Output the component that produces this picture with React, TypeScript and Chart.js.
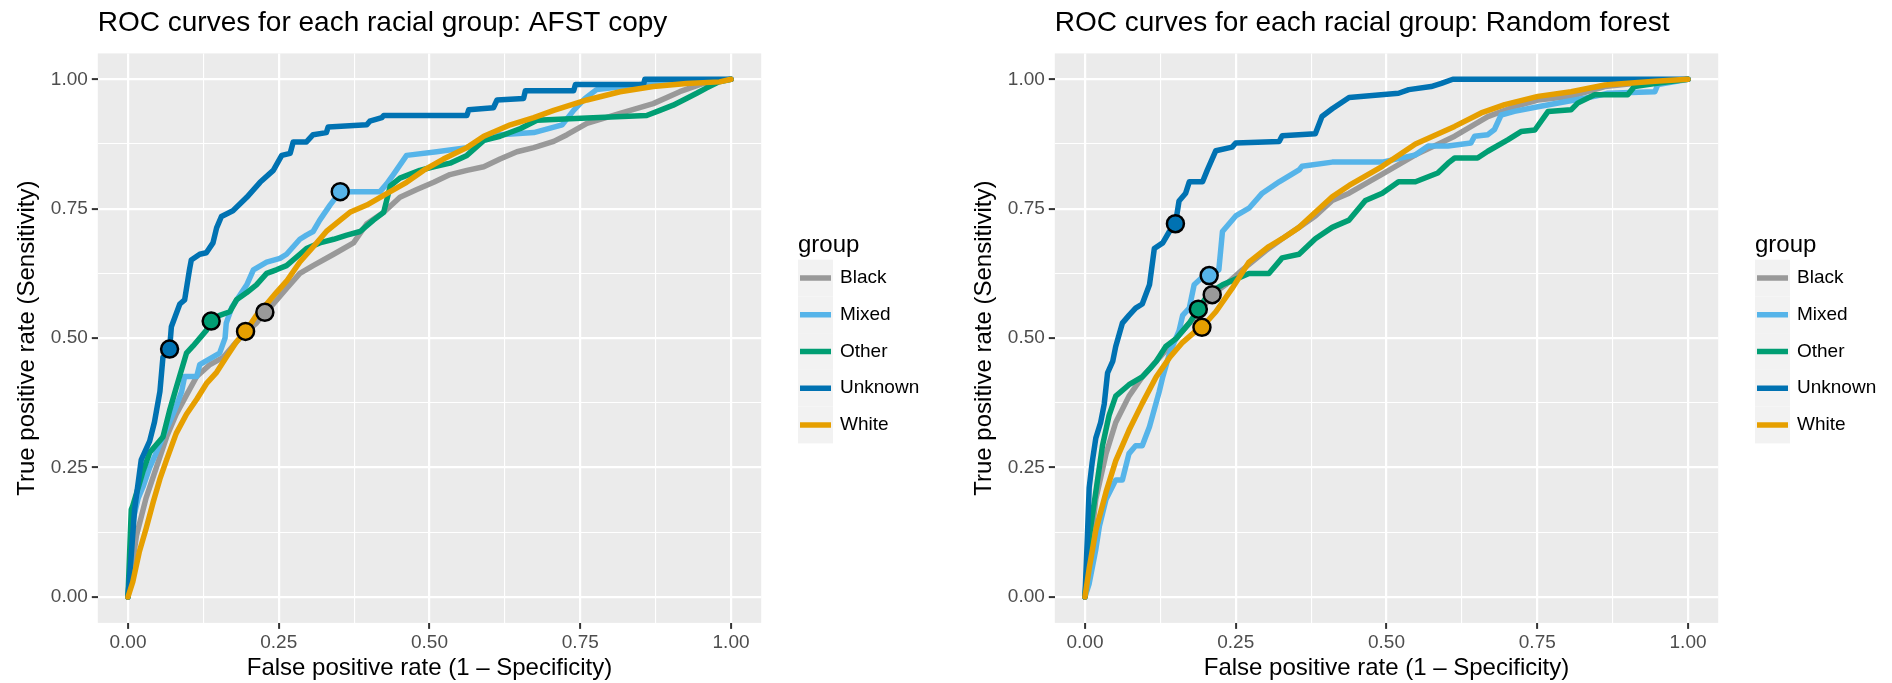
import React, { useEffect, useRef } from "react";
import { Chart, registerables } from "chart.js";

Chart.register(...registerables);

// ---------- data ----------
const groups = ["Black", "Mixed", "Other", "Unknown", "White"];
const groupColors = ["#999999", "#56B4E9", "#009E73", "#0072B2", "#E69F00"];
const tickValues = [0, 0.125, 0.25, 0.375, 0.5, 0.625, 0.75, 0.875, 1];

const titleAfst = "ROC curves for each racial group: AFST copy";
const titleForest = "ROC curves for each racial group: Random forest";
const xAxisTitle = "False positive rate (1 \u2013 Specificity)";
const yAxisTitle = "True positive rate (Sensitivity)";
const legendTitle = "group";

// AFST copy: [fpr, tpr]
const afstBlack = [[0,0],[0.014,0.118],[0.03,0.191],[0.047,0.25],[0.064,0.309],[0.08,0.353],[0.097,0.39],[0.114,0.426],[0.136,0.449],[0.158,0.463],[0.174,0.485],[0.191,0.507],[0.213,0.529],[0.227,0.55],[0.241,0.566],[0.263,0.596],[0.285,0.625],[0.307,0.64],[0.341,0.662],[0.374,0.684],[0.396,0.721],[0.424,0.743],[0.451,0.772],[0.479,0.787],[0.507,0.801],[0.534,0.816],[0.562,0.824],[0.59,0.831],[0.617,0.846],[0.645,0.86],[0.673,0.868],[0.706,0.88],[0.728,0.893],[0.761,0.915],[0.816,0.934],[0.871,0.953],[0.915,0.976],[0.954,0.992],[1,1]];
const afstMixed = [[0,0],[0.004,0.06],[0.008,0.147],[0.017,0.191],[0.025,0.213],[0.036,0.25],[0.047,0.279],[0.058,0.309],[0.069,0.338],[0.08,0.368],[0.089,0.397],[0.094,0.426],[0.114,0.426],[0.119,0.449],[0.152,0.471],[0.161,0.5],[0.163,0.529],[0.172,0.559],[0.197,0.603],[0.208,0.632],[0.23,0.647],[0.252,0.654],[0.263,0.662],[0.285,0.691],[0.296,0.699],[0.307,0.706],[0.318,0.728],[0.335,0.757],[0.352,0.783],[0.418,0.783],[0.429,0.798],[0.44,0.816],[0.462,0.853],[0.512,0.86],[0.562,0.868],[0.59,0.882],[0.617,0.893],[0.673,0.897],[0.72,0.912],[0.739,0.94],[0.758,0.963],[0.777,0.98],[0.85,0.99],[0.95,0.995],[1,1]];
const afstOther = [[0,0],[0.0055,0.169],[0.008,0.176],[0.025,0.243],[0.036,0.279],[0.058,0.309],[0.069,0.36],[0.08,0.404],[0.097,0.471],[0.108,0.485],[0.13,0.515],[0.138,0.533],[0.152,0.544],[0.169,0.551],[0.18,0.574],[0.197,0.588],[0.213,0.603],[0.23,0.625],[0.246,0.632],[0.263,0.64],[0.285,0.662],[0.296,0.673],[0.318,0.684],[0.341,0.691],[0.363,0.699],[0.385,0.706],[0.407,0.728],[0.424,0.743],[0.435,0.794],[0.451,0.809],[0.484,0.824],[0.507,0.831],[0.534,0.838],[0.562,0.853],[0.59,0.882],[0.617,0.89],[0.651,0.905],[0.678,0.921],[0.733,0.924],[0.8,0.927],[0.86,0.93],[0.882,0.94],[0.904,0.95],[0.926,0.963],[0.943,0.973],[0.959,0.983],[0.98,0.995],[1,1]];
const afstUnknown = [[0,0],[0.0055,0.081],[0.011,0.169],[0.022,0.265],[0.036,0.301],[0.044,0.338],[0.053,0.397],[0.058,0.463],[0.069,0.479],[0.072,0.522],[0.086,0.566],[0.094,0.574],[0.102,0.632],[0.105,0.651],[0.119,0.662],[0.13,0.665],[0.141,0.684],[0.147,0.713],[0.155,0.735],[0.174,0.746],[0.197,0.772],[0.219,0.801],[0.241,0.824],[0.255,0.853],[0.269,0.857],[0.274,0.879],[0.296,0.879],[0.307,0.893],[0.329,0.897],[0.332,0.908],[0.396,0.912],[0.401,0.919],[0.421,0.926],[0.424,0.93],[0.562,0.93],[0.565,0.941],[0.606,0.945],[0.612,0.96],[0.656,0.963],[0.659,0.978],[0.739,0.978],[0.742,0.99],[0.855,0.99],[0.857,1],[1,1]];
const afstWhite = [[0,0],[0.008,0.029],[0.019,0.088],[0.03,0.132],[0.042,0.184],[0.053,0.228],[0.064,0.265],[0.08,0.316],[0.097,0.353],[0.114,0.382],[0.13,0.412],[0.147,0.434],[0.163,0.463],[0.18,0.493],[0.195,0.513],[0.213,0.544],[0.23,0.566],[0.246,0.588],[0.263,0.61],[0.285,0.647],[0.307,0.676],[0.329,0.706],[0.352,0.728],[0.368,0.743],[0.396,0.757],[0.429,0.779],[0.462,0.801],[0.49,0.824],[0.523,0.846],[0.562,0.868],[0.59,0.89],[0.634,0.912],[0.673,0.926],[0.706,0.94],[0.761,0.96],[0.816,0.976],[0.871,0.986],[0.926,0.992],[0.981,0.995],[1,1]];
// operating points, in group order
const afstMarkers = [[0.227,0.55],[0.352,0.783],[0.138,0.533],[0.069,0.479],[0.195,0.513]];

// Random forest: [fpr, tpr]
const forestBlack = [[0,0],[0.007,0.078],[0.018,0.189],[0.035,0.277],[0.051,0.337],[0.073,0.388],[0.095,0.425],[0.118,0.455],[0.14,0.484],[0.162,0.514],[0.184,0.544],[0.2,0.566],[0.211,0.584],[0.233,0.603],[0.261,0.632],[0.3,0.669],[0.327,0.692],[0.355,0.714],[0.382,0.736],[0.41,0.766],[0.438,0.78],[0.493,0.817],[0.548,0.854],[0.613,0.89],[0.668,0.928],[0.712,0.947],[0.751,0.96],[0.806,0.967],[0.862,0.986],[0.945,0.996],[1,1]];
const forestMixed = [[0,0],[0.007,0.026],[0.018,0.092],[0.024,0.137],[0.035,0.189],[0.051,0.226],[0.062,0.226],[0.073,0.277],[0.084,0.292],[0.095,0.292],[0.107,0.329],[0.123,0.396],[0.129,0.425],[0.14,0.47],[0.156,0.514],[0.162,0.544],[0.173,0.558],[0.181,0.603],[0.195,0.618],[0.206,0.621],[0.222,0.632],[0.228,0.706],[0.239,0.721],[0.25,0.736],[0.272,0.751],[0.294,0.78],[0.322,0.802],[0.355,0.825],[0.36,0.832],[0.41,0.84],[0.493,0.84],[0.548,0.854],[0.569,0.871],[0.602,0.871],[0.64,0.877],[0.646,0.89],[0.668,0.893],[0.679,0.903],[0.69,0.931],[0.712,0.938],[0.751,0.947],[0.812,0.96],[0.845,0.967],[0.867,0.973],[0.945,0.976],[0.95,0.99],[1,1]];
const forestOther = [[0,0],[0.007,0.115],[0.018,0.203],[0.029,0.292],[0.04,0.351],[0.051,0.388],[0.073,0.41],[0.095,0.425],[0.107,0.44],[0.118,0.455],[0.134,0.484],[0.151,0.499],[0.162,0.514],[0.173,0.529],[0.188,0.556],[0.206,0.588],[0.228,0.603],[0.25,0.614],[0.272,0.625],[0.305,0.625],[0.327,0.655],[0.355,0.662],[0.382,0.692],[0.41,0.714],[0.438,0.728],[0.465,0.766],[0.493,0.78],[0.52,0.802],[0.548,0.802],[0.585,0.819],[0.602,0.838],[0.613,0.848],[0.651,0.848],[0.668,0.861],[0.701,0.883],[0.723,0.899],[0.746,0.902],[0.768,0.938],[0.806,0.941],[0.817,0.954],[0.845,0.97],[0.9,0.97],[0.911,0.986],[0.945,0.992],[1,1]];
const forestUnknown = [[0,0],[0.004,0.115],[0.007,0.211],[0.012,0.26],[0.018,0.307],[0.026,0.337],[0.032,0.373],[0.0375,0.433],[0.046,0.455],[0.051,0.484],[0.062,0.529],[0.073,0.544],[0.084,0.558],[0.095,0.566],[0.107,0.603],[0.115,0.673],[0.129,0.684],[0.14,0.706],[0.15,0.721],[0.156,0.765],[0.167,0.78],[0.173,0.802],[0.195,0.802],[0.203,0.825],[0.217,0.862],[0.244,0.869],[0.25,0.877],[0.322,0.88],[0.327,0.891],[0.382,0.895],[0.393,0.928],[0.41,0.943],[0.438,0.965],[0.52,0.973],[0.537,0.98],[0.574,0.986],[0.591,0.992],[0.61,1],[1,1]];
const forestWhite = [[0,0],[0.007,0.055],[0.018,0.129],[0.035,0.203],[0.051,0.263],[0.073,0.322],[0.095,0.374],[0.118,0.425],[0.14,0.462],[0.162,0.492],[0.184,0.514],[0.194,0.521],[0.217,0.551],[0.244,0.596],[0.272,0.647],[0.305,0.677],[0.327,0.692],[0.355,0.714],[0.382,0.743],[0.41,0.773],[0.438,0.795],[0.493,0.832],[0.548,0.875],[0.613,0.909],[0.657,0.935],[0.696,0.951],[0.751,0.967],[0.806,0.976],[0.862,0.989],[0.945,0.996],[1,1]];
const forestMarkers = [[0.211,0.584],[0.206,0.621],[0.188,0.556],[0.15,0.721],[0.194,0.521]];

// ---------- chart ----------
const FONT = "'Liberation Sans', Arial, Helvetica, sans-serif";
const W = 935;
const H = 683;

const isMajor = (v: number) => Math.abs(v * 4 - Math.round(v * 4)) < 1e-6;

function makeAxis(isX: boolean) {
  return {
    type: "linear",
    min: -0.05,
    max: 1.05,
    afterBuildTicks: (s: any) => {
      s.ticks = tickValues.map((v) => ({ value: v }));
    },
    afterFit: (s: any) => {
      if (isX) s.height = H - 622.9;
      else s.width = 97.8;
    },
    border: { display: false },
    grid: {
      color: "#FFFFFF",
      lineWidth: (c: any) => (c.tick && isMajor(c.tick.value) ? 2.2 : 1.1),
      drawTicks: true,
      tickLength: 6,
      tickColor: (c: any) => (c.tick && isMajor(c.tick.value) ? "#333333" : "rgba(0,0,0,0)"),
      tickWidth: 2,
    },
    ticks: {
      autoSkip: false,
      maxRotation: 0,
      minRotation: 0,
      padding: isX ? 2 : 4,
      color: "#4D4D4D",
      font: { family: FONT, size: 19 },
      callback: (v: any) => (isMajor(Number(v)) ? Number(v).toFixed(2) : ""),
    },
  };
}

function decorPlugin(title: string) {
  return {
    id: "ggdecor",
    beforeDraw(chart: any) {
      const { ctx, chartArea: a } = chart;
      ctx.save();
      ctx.fillStyle = "#EBEBEB";
      ctx.fillRect(a.left, a.top, a.right - a.left, a.bottom - a.top);
      ctx.restore();
    },
    afterDraw(chart: any) {
      const { ctx, chartArea: a } = chart;
      ctx.save();
      // title
      ctx.fillStyle = "#000000";
      ctx.font = `28px ${FONT}`;
      ctx.textAlign = "left";
      ctx.textBaseline = "alphabetic";
      ctx.fillText(title, a.left, 31);
      // axis titles
      ctx.font = `24px ${FONT}`;
      ctx.textAlign = "center";
      ctx.textBaseline = "middle";
      ctx.fillText(xAxisTitle, (a.left + a.right) / 2, 668);
      ctx.save();
      ctx.translate(27, (a.top + a.bottom) / 2);
      ctx.rotate(-Math.PI / 2);
      ctx.fillText(yAxisTitle, 0, 0);
      ctx.restore();
      // legend
      const lx = 798;
      ctx.textAlign = "left";
      ctx.font = `24px ${FONT}`;
      ctx.fillText(legendTitle, lx, 245);
      ctx.font = `19px ${FONT}`;
      groups.forEach((g, i) => {
        const cy = 278 + i * 36.75;
        ctx.fillStyle = "#F2F2F2";
        ctx.fillRect(lx, cy - 18.4, 35, 36.8);
        ctx.strokeStyle = groupColors[i];
        ctx.lineWidth = 5.5;
        ctx.beginPath();
        ctx.moveTo(lx + 2, cy);
        ctx.lineTo(lx + 33, cy);
        ctx.stroke();
        ctx.fillStyle = "#000000";
        ctx.fillText(g, lx + 42, cy);
      });
      ctx.restore();
    },
  };
}

function RocPanel(props: { title: string; series: number[][][]; markers: number[][]; left: number }) {
  const ref = useRef<HTMLCanvasElement | null>(null);
  useEffect(() => {
    if (!ref.current) return;
    const lineSets = props.series.map((pts, i) => ({
      type: "line",
      label: groups[i],
      data: pts.map(([x, y]) => ({ x, y })),
      borderColor: groupColors[i],
      backgroundColor: groupColors[i],
      borderWidth: 5.5,
      borderJoinStyle: "round",
      borderCapStyle: "round",
      pointRadius: 0,
      fill: false,
      tension: 0,
      order: 5 - i,
    }));
    const markerSet = {
      type: "line",
      label: "operating point",
      data: props.markers.map(([x, y]) => ({ x, y })),
      showLine: false,
      pointRadius: 8.5,
      pointBorderWidth: 2.5,
      pointBackgroundColor: groupColors,
      pointBorderColor: "#000000",
      order: 0,
    };
    const chart = new Chart(ref.current, {
      type: "line",
      data: { datasets: [markerSet, ...lineSets] as any },
      options: {
        animation: false,
        responsive: false,
        devicePixelRatio: 1,
        layout: { padding: { top: 53.4, right: W - 761.2, left: 0, bottom: 0 } },
        plugins: {
          legend: { display: false },
          title: { display: false },
          tooltip: { enabled: false },
        },
        scales: { x: makeAxis(true) as any, y: makeAxis(false) as any },
      },
      plugins: [decorPlugin(props.title)],
    });
    return () => chart.destroy();
  }, []);
  return (
    <canvas
      ref={ref}
      width={W}
      height={H}
      style={{ position: "absolute", left: props.left, top: 0, width: W, height: H }}
    />
  );
}

export default function App() {
  return (
    <div style={{ position: "absolute", left: 0, top: 0, width: 1892, height: 683, background: "#FFFFFF", overflow: "hidden" }}>
      <RocPanel
        title={titleAfst}
        series={[afstBlack, afstMixed, afstOther, afstUnknown, afstWhite]}
        markers={afstMarkers}
        left={0}
      />
      <RocPanel
        title={titleForest}
        series={[forestBlack, forestMixed, forestOther, forestUnknown, forestWhite]}
        markers={forestMarkers}
        left={957}
      />
    </div>
  );
}
